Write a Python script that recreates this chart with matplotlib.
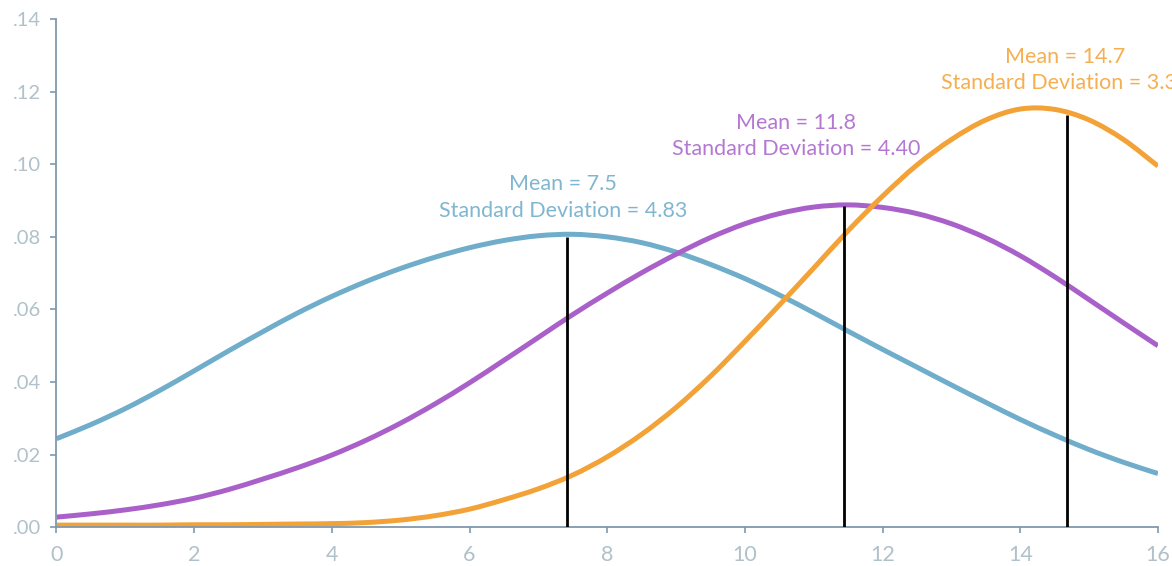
import matplotlib
matplotlib.use("Agg")
import matplotlib.pyplot as plt
from matplotlib.path import Path
from matplotlib.patches import PathPatch
import numpy as np

# values at half-unit steps
x_vals = [0, 0.5, 1, 1.5, 2, 2.5, 3, 3.5, 4, 4.5, 5, 5.5, 6, 6.5, 7, 7.5, 8,
          8.5, 9, 9.5, 10, 10.5, 11, 11.5, 12, 12.5, 13, 13.5, 14, 14.5, 15, 15.5, 16]

blue_vals = [0.0244, 0.0283, 0.0327, 0.0377, 0.0431, 0.0486, 0.0539, 0.0590, 0.0636,
             0.0677, 0.0713, 0.0744, 0.0770, 0.0790, 0.0803, 0.0807, 0.0800,
             0.0784, 0.0758, 0.0724, 0.0685, 0.0640, 0.0591, 0.0540, 0.0490,
             0.0441, 0.0392, 0.0344, 0.0297, 0.0254, 0.0214, 0.0179, 0.0148]

purple_vals = [0.0028, 0.0037, 0.0048, 0.0062, 0.0080, 0.0104, 0.0133, 0.0164, 0.0199,
               0.0240, 0.0287, 0.0340, 0.0398, 0.0460, 0.0523, 0.0586, 0.0645,
               0.0701, 0.0752, 0.0798, 0.0836, 0.0864, 0.0882, 0.0888, 0.0881,
               0.0864, 0.0836, 0.0797, 0.0748, 0.0690, 0.0627, 0.0563, 0.0500]

orange_vals = [0.0006, 0.0006, 0.0006, 0.0006, 0.0007, 0.0007, 0.0008, 0.0009, 0.0010,
               0.0013, 0.0020, 0.0032, 0.0050, 0.0076, 0.0106, 0.0144, 0.0194,
               0.0256, 0.0330, 0.0416, 0.0512, 0.0612, 0.0714, 0.0817, 0.0912,
               0.0998, 0.1068, 0.1122, 0.1152, 0.1151, 0.1122, 0.1068, 0.0995]

# black mean markers: x position and height where they meet the curve
mean_x = [7.42, 11.44, 14.68]
mean_top = [0.0800, 0.0884, 0.1136]

labels_mean = ["Mean = 7.5", "Mean = 11.8", "Mean = 14.7"]
labels_sd = ["Standard Deviation = 4.83", "Standard Deviation = 4.40",
             "Standard Deviation = 3.30"]

colors = ["#6FADCA", "#A960C9", "#F2A236"]
text_colors = ["#80B6D1", "#B478D3", "#F5AF50"]
label_x = [7.36, 10.74, 14.65]
label_y = [0.0945, 0.1114, 0.1296]

xticks = [0, 2, 4, 6, 8, 10, 12, 14, 16]
yticks = [0.00, 0.02, 0.04, 0.06, 0.08, 0.10, 0.12, 0.14]
ytick_labels = [".00", ".02", ".04", ".06", ".08", ".10", ".12", ".14"]


def smooth_path(xs, ys):
    """catmull-rom through the read points, drawn as cubic bezier segments"""
    p = np.column_stack([xs, ys]).astype(float)
    ext = np.vstack([2 * p[0] - p[1], p, 2 * p[-1] - p[-2]])
    verts = [p[0]]
    codes = [Path.MOVETO]
    for i in range(1, len(ext) - 2):
        c1 = ext[i] + (ext[i + 1] - ext[i - 1]) / 6.0
        c2 = ext[i + 1] - (ext[i + 2] - ext[i]) / 6.0
        verts += [c1, c2, ext[i + 1]]
        codes += [Path.CURVE4] * 3
    return Path(verts, codes)


plt.rcParams['font.family'] = ['Lato', 'DejaVu Sans']

fig = plt.figure(figsize=(11.72, 5.66), dpi=100)
ax = fig.add_axes([0.0482, 0.0684, 0.9398, 0.898])

for xm, top in zip(mean_x, mean_top):
    ax.vlines(xm, 0, top, color='black', lw=2.0, zorder=3)

for ys, c in zip([blue_vals, purple_vals, orange_vals], colors):
    patch = PathPatch(smooth_path(x_vals, ys), facecolor='none', edgecolor=c,
                      lw=3.6, capstyle='butt', zorder=2)
    ax.add_patch(patch)

for lx, ly, m, s, c in zip(label_x, label_y, labels_mean, labels_sd, text_colors):
    ax.text(lx, ly, m, color=c, fontsize=15.5, ha='center', va='center',
            clip_on=False)
    ax.text(lx, ly - 0.0073, s, color=c, fontsize=15.5, ha='center',
            va='center', clip_on=False)

ax.set_xlim(0, 16)
ax.set_ylim(0, 0.14)
ax.set_xticks(xticks)
ax.set_yticks(yticks)
ax.set_yticklabels(ytick_labels)

for side in ['top', 'right']:
    ax.spines[side].set_visible(False)
for side in ['left', 'bottom']:
    ax.spines[side].set_color('#7F98AE')
    ax.spines[side].set_linewidth(1.3)

ax.tick_params(axis='both', colors='#7F98AE', length=4, width=1.2,
               labelcolor='#B0C1CA')
ax.tick_params(axis='y', labelsize=14.5, pad=7)
ax.tick_params(axis='x', labelsize=15.5, pad=9)

fig.savefig('out.png', dpi=100)
